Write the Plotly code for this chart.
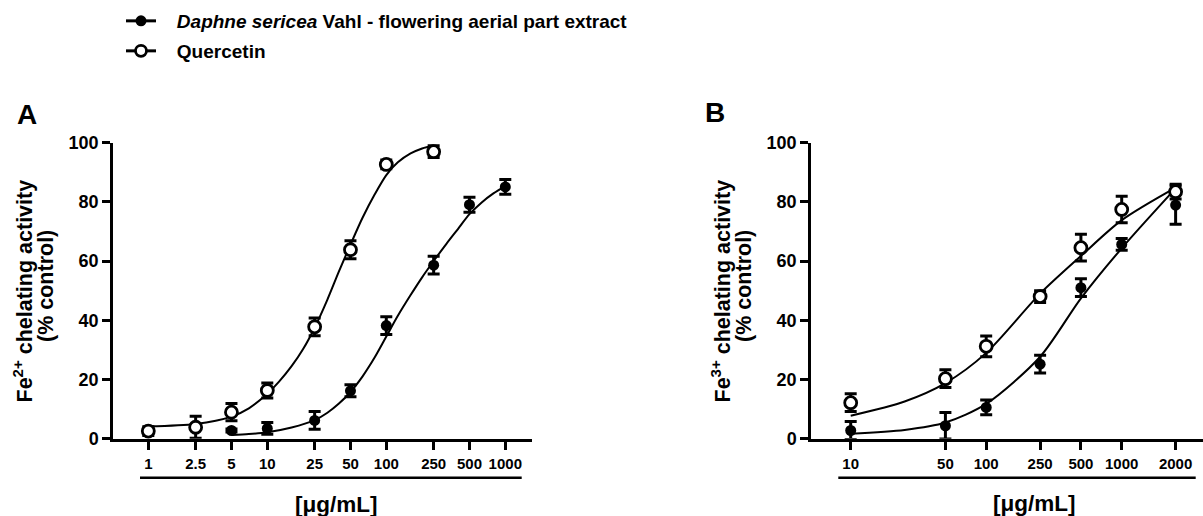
import plotly.graph_objects as go

# ---------------- data ----------------
# Panel A (Fe2+)
a_tick_vals = [1, 2.5, 5, 10, 25, 50, 100, 250, 500, 1000]
a_tick_text = ["1", "2.5", "5", "10", "25", "50", "100", "250", "500", "1000"]

a_daphne_x = [5, 10, 25, 50, 100, 250, 500, 1000]
a_daphne_y = [2.8, 3.5, 6.2, 16.2, 38.2, 58.6, 79.0, 85.0]
a_daphne_err = [0.5, 2.0, 3.0, 2.0, 3.0, 3.0, 2.5, 2.5]

a_querc_x = [1, 2.5, 5, 10, 25, 50, 100, 250]
a_querc_y = [2.6, 3.9, 9.0, 16.3, 37.8, 63.8, 92.6, 96.9]
a_querc_err = [1.5, 3.7, 2.9, 2.5, 3.0, 3.0, 1.5, 2.0]

# fitted curves
a_daphne_fit_x = [5, 7, 10, 16, 25, 32, 40, 50, 63, 80, 100, 125, 160, 200, 250,
                  320, 400, 500, 630, 800, 1000]
a_daphne_fit_y = [1.3, 1.6, 2.2, 3.8, 6.3, 8.8, 11.9, 15.8, 21.0, 27.5, 34.5, 41.5,
                  48.5, 54.5, 60.0, 65.8, 70.8, 75.8, 79.7, 82.9, 85.3]
a_querc_fit_x = [1, 2.5, 5, 7, 10, 12.5, 16, 20, 25, 32, 40, 50, 63, 80, 100,
                 125, 160, 200, 250]
a_querc_fit_y = [4.2, 5.0, 7.5, 10.3, 15.2, 19.2, 24.5, 30.3, 37.5, 47.0, 56.5,
                 65.5, 74.5, 82.5, 89.0, 93.3, 96.3, 98.0, 99.0]

# Panel B (Fe3+) -- the tick labelled "2000" sits where 2500 would be on the log axis
b_tick_vals = [10, 50, 100, 250, 500, 1000, 2500]
b_tick_text = ["10", "50", "100", "250", "500", "1000", "2000"]

b_x = [10, 50, 100, 250, 500, 1000, 2500]
b_daphne_y = [2.8, 4.4, 10.6, 25.2, 51.0, 65.6, 78.9]
b_daphne_err = [3.0, 4.5, 2.5, 3.0, 3.0, 2.0, 6.5]
b_querc_y = [12.2, 20.3, 31.2, 48.0, 64.5, 77.4, 83.4]
b_querc_err = [3.0, 3.0, 3.5, 2.0, 4.5, 4.5, 2.5]

b_fit_x = [10, 25, 50, 100, 250, 500, 1000, 2500]
b_daphne_fit_y = [1.7, 3.0, 5.5, 11.8, 27.7, 47.4, 64.3, 84.5]
b_querc_fit_y = [7.8, 12.6, 18.8, 29.0, 49.0, 61.7, 73.8, 84.8]

y_ticks = [0, 20, 40, 60, 80, 100]

legend_names = ["<b>&nbsp;&nbsp;&nbsp;<i>Daphne sericea</i> Vahl - flowering aerial part extract</b>",
                "<b>&nbsp;&nbsp;&nbsp;Quercetin</b>"]

# ---------------- style ----------------
FONT = "Liberation Sans, Arial, sans-serif"
BLACK = "#000000"
W, H = 1203, 516

fig = go.Figure()

def curve(x, y, xa, ya):
    fig.add_trace(go.Scatter(x=x, y=y, mode="lines", xaxis=xa, yaxis=ya,
                             line=dict(color=BLACK, width=2, shape="spline", smoothing=0.8),
                             showlegend=False, hoverinfo="skip", cliponaxis=False))

def points(x, y, err, xa, ya, filled):
    fig.add_trace(go.Scatter(
        x=x, y=y, mode="markers", xaxis=xa, yaxis=ya, cliponaxis=False,
        error_y=dict(type="data", array=err, visible=True, color=BLACK,
                     thickness=3, width=6),
        marker=dict(symbol="circle", size=11 if filled else 12,
                    color=BLACK if filled else "white",
                    line=dict(color=BLACK, width=0 if filled else 2.8)),
        showlegend=False))

curve(a_daphne_fit_x, a_daphne_fit_y, "x", "y")
curve(a_querc_fit_x, a_querc_fit_y, "x", "y")
curve(b_fit_x, b_daphne_fit_y, "x2", "y2")
curve(b_fit_x, b_querc_fit_y, "x2", "y2")

points(a_daphne_x, a_daphne_y, a_daphne_err, "x", "y", True)
points(a_querc_x, a_querc_y, a_querc_err, "x", "y", False)
points(b_x, b_daphne_y, b_daphne_err, "x2", "y2", True)
points(b_x, b_querc_y, b_querc_err, "x2", "y2", False)

# legend entries
fig.add_trace(go.Scatter(x=[None], y=[None], mode="lines+markers", name=legend_names[0],
                         line=dict(color=BLACK, width=3),
                         marker=dict(size=11, color=BLACK), legend="legend"))
fig.add_trace(go.Scatter(x=[None], y=[None], mode="lines+markers", name=legend_names[1],
                         line=dict(color=BLACK, width=3),
                         marker=dict(size=11, color="white", line=dict(color=BLACK, width=2.8)),
                         legend="legend2"))

ydom = [1 - 438.8 / H, 1 - 142.5 / H]
xA = [113 / W, 532 / W]
xB = [811 / W, 1.0]

common_x = dict(type="log", showline=True, linecolor=BLACK, linewidth=2.5,
                ticks="outside", ticklen=8, tickwidth=2.5, tickcolor=BLACK,
                showgrid=False, zeroline=False,
                tickfont=dict(family=FONT, size=15, color=BLACK, weight="bold"),
                ticklabelstandoff=1)
common_y = dict(range=[0, 100], showline=True, linecolor=BLACK, linewidth=2.5,
                ticks="outside", ticklen=8, tickwidth=2.5, tickcolor=BLACK,
                showgrid=False, zeroline=False, tickvals=y_ticks,
                tickfont=dict(family=FONT, size=18, color=BLACK, weight="bold"))

leg_common = dict(xanchor="left", yanchor="middle", itemwidth=30, bgcolor="rgba(0,0,0,0)",
                  font=dict(family=FONT, size=19, color=BLACK))

fig.update_layout(
    width=W, height=H, margin=dict(l=0, r=0, t=0, b=0, autoexpand=False),
    paper_bgcolor="white", plot_bgcolor="white",
    xaxis=dict(domain=xA, anchor="y", range=[-0.2966, 3.2244],
               tickvals=a_tick_vals, ticktext=a_tick_text, **common_x),
    yaxis=dict(domain=ydom, anchor="x", **common_y),
    xaxis2=dict(domain=xB, anchor="y2", range=[0.707, 3.600],
                tickvals=b_tick_vals, ticktext=b_tick_text, **common_x),
    yaxis2=dict(domain=ydom, anchor="x2", **common_y),
    legend=dict(x=121 / W, y=1 - 21 / H, **leg_common),
    legend2=dict(x=121 / W, y=1 - 51 / H, **leg_common),
    showlegend=True,
)

# bracket lines under the tick labels
for x0, x1 in [(140, 521.7), (838.3, 1195.7)]:
    fig.add_shape(type="line", xref="paper", yref="paper",
                  x0=x0 / W, x1=x1 / W, y0=1 - 477.7 / H, y1=1 - 477.7 / H,
                  line=dict(color=BLACK, width=2.5))

ann = []
for cx, cy, txt in [(336.7, 504, "[μg/mL]"), (1034, 503, "[μg/mL]")]:
    ann.append(dict(x=cx / W, y=1 - cy / H, xref="paper", yref="paper", text="<b>" + txt + "</b>",
                    showarrow=False, xanchor="center", yanchor="middle",
                    font=dict(family=FONT, size=22.5, color=BLACK)))
for cx, cy, txt in [(26.5, 115, "A"), (715, 113, "B")]:
    ann.append(dict(x=cx / W, y=1 - cy / H, xref="paper", yref="paper", text="<b>" + txt + "</b>",
                    showarrow=False, xanchor="center", yanchor="middle",
                    font=dict(family=FONT, size=28, color=BLACK)))
for off, ion in [(0, "2+"), (698, "3+")]:
    ann.append(dict(x=(22.5 + off) / W, y=1 - 291 / H, xref="paper", yref="paper",
                    text="<b>Fe<sup>" + ion + "</sup> chelating activity</b>", textangle=-90,
                    showarrow=False, xanchor="center", yanchor="middle",
                    font=dict(family=FONT, size=21.5, color=BLACK)))
    ann.append(dict(x=(46 + off) / W, y=1 - 286 / H, xref="paper", yref="paper",
                    text="<b>(% control)</b>", textangle=-90,
                    showarrow=False, xanchor="center", yanchor="middle",
                    font=dict(family=FONT, size=21.5, color=BLACK)))
fig.update_layout(annotations=ann)

fig.write_html("out.html", config={"displayModeBar": False},
               post_script="document.body.style.margin='0px';")
